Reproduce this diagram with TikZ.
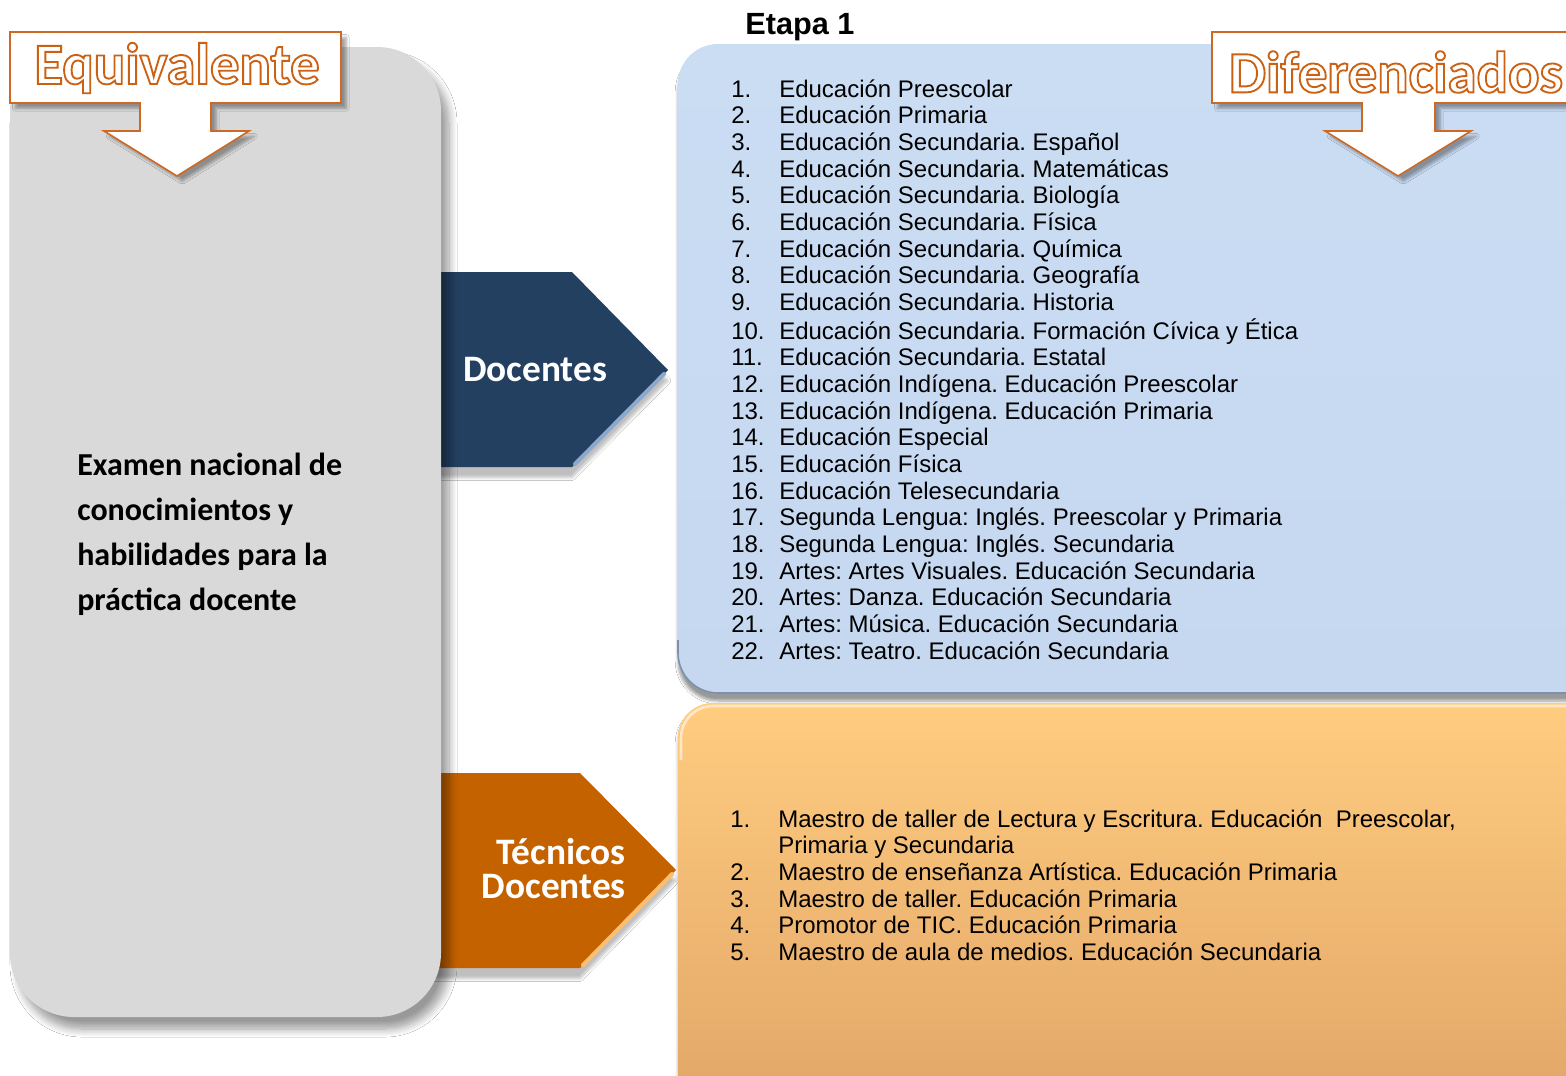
\documentclass[tikz,border=0pt]{standalone}
\usepackage{fontspec}
\setmainfont{Liberation Sans}
\newfontfamily\carl{Carlito}
\usetikzlibrary{shadows.blur}
\definecolor{grayfill}{RGB}{217,217,217}
\definecolor{navy}{RGB}{36,64,97}
\definecolor{navyhi}{RGB}{140,168,205}
\definecolor{chevor}{RGB}{196,98,0}
\definecolor{chevorhi}{RGB}{255,190,110}
\definecolor{bluefill}{RGB}{197,216,240}
\definecolor{bluetop}{RGB}{203,221,243}
\definecolor{blueedge}{RGB}{125,145,175}
\definecolor{ortop}{RGB}{255,204,128}
\definecolor{orbot}{RGB}{224,164,102}
\definecolor{calloutline}{RGB}{205,105,35}
\newcommand\outlinetext[1]{{\color{white}\special{pdf:code q 0.80 0.38 0.08 RG 2 Tr 1.4 w}#1\special{pdf:code Q}}}
\tikzset{
  callout/.style={fill=white, draw=calloutline, line width=1.2pt,
    blur shadow={shadow xshift=4pt, shadow yshift=-4pt, shadow blur steps=6, shadow opacity=35}},
  bigtitle/.style={font=\carl\bfseries\fontsize{44}{48}\selectfont, inner sep=0pt},
  chevtext/.style={font=\carl\bfseries\fontsize{28}{25.5}\selectfont, text=white, inner sep=0pt},
  listtext/.style={font=\frenchspacing\fontsize{18}{20}\selectfont, inner sep=0pt, anchor=base west},
}
\begin{document}
\begin{tikzpicture}[x=0.75pt,y=-0.75pt]
\useasboundingbox (0,0) rectangle (1566,1075);
\clip (0,0) rectangle (1566,1075);
\fill[white] (0,0) rectangle (1566,1075);

% chevrons (behind the grey panel)
\fill[navy, blur shadow={shadow xshift=0pt, shadow yshift=-8pt, shadow blur steps=8, shadow opacity=25}]
  (420,272) -- (572,272) -- (668,370) -- (572,467) -- (420,467) -- cycle;
\draw[navyhi, line width=3pt, line cap=round] (664,374) -- (575,464);
\fill[chevor, blur shadow={shadow xshift=0pt, shadow yshift=-8pt, shadow blur steps=8, shadow opacity=25}]
  (420,773) -- (580,773) -- (676,870) -- (580,968) -- (420,968) -- cycle;
\draw[chevorhi, line width=3pt, line cap=round] (672,874) -- (583,965);

% grey panel
\fill[grayfill, rounded corners=48pt,
  blur shadow={shadow xshift=6pt, shadow yshift=-9pt, shadow blur steps=10, shadow blur radius=6pt, shadow opacity=40}]
  (10,47) rectangle (441,1017);

% blue panel
\shade[top color=bluetop, bottom color=bluefill, rounded corners=30pt,
  blur shadow={shadow xshift=0pt, shadow yshift=-6pt, shadow blur steps=6, shadow opacity=40}]
  (678,44) rectangle (1620,693);
\draw[blueedge, line width=1.2pt, rounded corners=30pt] (678,640) -- (678,693) -- (1620,693);

% orange panel
\shade[top color=ortop, bottom color=orbot, rounded corners=26pt,
  blur shadow={shadow xshift=0pt, shadow yshift=-4pt, shadow blur steps=6, shadow opacity=30}]
  (678,703) rectangle (1620,1130);
\draw[white, opacity=0.55, line width=2pt, rounded corners=24pt] (681,760) -- (681,706) -- (1620,706);

% callouts
\draw[callout] (10,32) -- (341,32) -- (341,103) -- (211,103) -- (211,131) -- (249,131)
  -- (177,176) -- (104,131) -- (140,131) -- (140,103) -- (10,103) -- cycle;
\draw[callout] (1212,32) -- (1600,32) -- (1600,103) -- (1435,103) -- (1435,131) -- (1471,131)
  -- (1398,176) -- (1325,131) -- (1362,131) -- (1362,103) -- (1212,103) -- cycle;

% texts
\node[bigtitle] (equiv) at (177,68) {\outlinetext{Equivalente}};
\node[bigtitle] (difer) at (1396,72) {\outlinetext{Diferenciados}};
\node[font=\bfseries\fontsize{23}{26}\selectfont, inner sep=0pt] (etapa) at (800,27) {Etapa 1};

\node[chevtext] (doc) at (535,370) {Docentes};
\node[chevtext, align=right, anchor=east] (tec) at (626,869) {Técnicos\\Docentes};

\node[inner sep=0pt, anchor=base west, font=\carl\bfseries\fontsize{24}{33.75}\selectfont] (exam) at (77,475)
  {\begin{tabular}[t]{@{}l@{}}Examen nacional de\\ conocimientos y\\ habilidades para la\\ práctica docente\end{tabular}};

\node[listtext] (dlist) at (731,97) {\begin{tabular}[t]{@{}p{36pt}@{}l@{}}
1. & Educación Preescolar\\
2. & Educación Primaria\\
3. & Educación Secundaria. Español\\
4. & Educación Secundaria. Matemáticas\\
5. & Educación Secundaria. Biología\\
6. & Educación Secundaria. Física\\
7. & Educación Secundaria. Química\\
8. & Educación Secundaria. Geografía\\
9. & Educación Secundaria. Historia\\
10. & Educación Secundaria. Formación Cívica y Ética\\
11. & Educación Secundaria. Estatal\\
12. & Educación Indígena. Educación Preescolar\\
13. & Educación Indígena. Educación Primaria\\
14. & Educación Especial\\
15. & Educación Física\\
16. & Educación Telesecundaria\\
17. & Segunda Lengua: Inglés. Preescolar y Primaria\\
18. & Segunda Lengua: Inglés. Secundaria\\
19. & Artes: Artes Visuales. Educación Secundaria\\
20. & Artes: Danza. Educación Secundaria\\
21. & Artes: Música. Educación Secundaria\\
22. & Artes: Teatro. Educación Secundaria
\end{tabular}};

\node[listtext] (tlist) at (730,827) {\begin{tabular}[t]{@{}p{36pt}@{}l@{}}
1. & Maestro de taller de Lectura y Escritura. Educación\ \ Preescolar,\\
 & Primaria y Secundaria\\
2. & Maestro de enseñanza Artística. Educación Primaria\\
3. & Maestro de taller. Educación Primaria\\
4. & Promotor de TIC. Educación Primaria\\
5. & Maestro de aula de medios. Educación Secundaria
\end{tabular}};
\end{tikzpicture}
\end{document}
